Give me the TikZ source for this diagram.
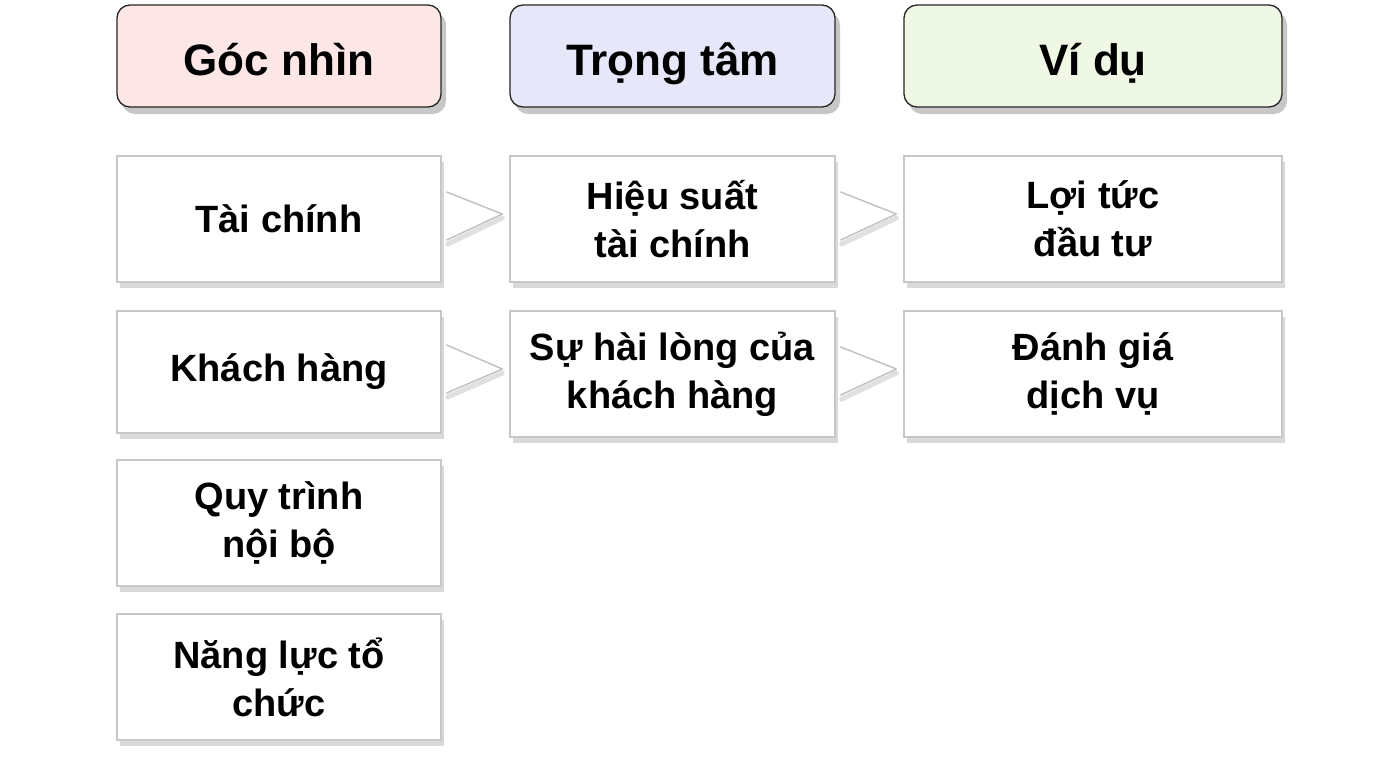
\documentclass[tikz,border=0pt]{standalone}
\usepackage{fontspec}
\setmainfont{Liberation Sans}
\usetikzlibrary{shadows,calc}
\definecolor{hpink}{HTML}{FCE6E6}
\definecolor{hblue}{HTML}{E6E8FA}
\definecolor{hgreen}{HTML}{EFF8E4}
\tikzset{
  head/.style={draw=black!85, line width=1.3pt, rounded corners=13pt, font=\bfseries\fontsize{44}{50}\selectfont,
    minimum height=102pt, align=center, inner sep=0pt, text height=38pt, text depth=0pt,
    drop shadow={shadow xshift=5pt, shadow yshift=-7pt, fill=black, opacity=0.22}},
  cell/.style={draw=black!22, line width=1.3pt, fill=white, font=\bfseries\fontsize{38}{48}\selectfont,
    minimum height=126pt, align=center, inner sep=0pt,
    drop shadow={shadow xshift=3pt, shadow yshift=-6pt, fill=black, opacity=0.15}},
  chev/.style={draw=black!25, line width=1.4pt, line join=round, line cap=round},
  chevsh/.style={draw=black!12, line width=5pt, line join=round, line cap=round}
}
\begin{document}
\begin{tikzpicture}[x=1pt,y=-1pt]
\useasboundingbox (0,0) rectangle (1376,768);
\fill[white] (0,0) rectangle (1376,768);
% headers
\node[head, fill=hpink, minimum width=324pt] (h1) at (279,56) {Góc nhìn};
\node[head, fill=hblue, minimum width=325pt] (h2) at (672.5,56) {Trọng tâm};
\node[head, fill=hgreen, minimum width=378pt] (h3) at (1093,56) {Ví dụ};
% column 1
\node[cell, minimum width=324pt] (a1) at (279,219) {Tài chính};
\node[cell, minimum width=324pt, minimum height=122pt] (a2) at (279,372) {Khách hàng};
\node[cell, minimum width=324pt] (a3) at (279,523) {Quy trình\\nội bộ};
\node[cell, minimum width=324pt] (a4) at (279,677) {Năng lực tổ\\chức};
% column 2
\node[cell, minimum width=325pt] (b1) at (672.5,219) {Hiệu suất\\tài chính};
\node[cell, minimum width=325pt] (b2) at (672.5,374) {Sự hài lòng của\\khách hàng};
% column 3
\node[cell, minimum width=378pt] (c1) at (1093,219) {Lợi tức\\đầu tư};
\node[cell, minimum width=378pt] (c2) at (1093,374) {Đánh giá\\dịch vụ};
% chevrons
\foreach \l/\r in {a1/b1, a2/b2, b1/c1, b2/c2}{
  \draw[chevsh] ($(\l.east)+(6,25)$) -- ($(\r.west)+(-7,-1)$);
  \draw[chev] ($(\l.east)+(5,-27)$) -- ($(\r.west)+(-7,-5)$) -- ($(\l.east)+(5,21)$);
}
\end{tikzpicture}
\end{document}
